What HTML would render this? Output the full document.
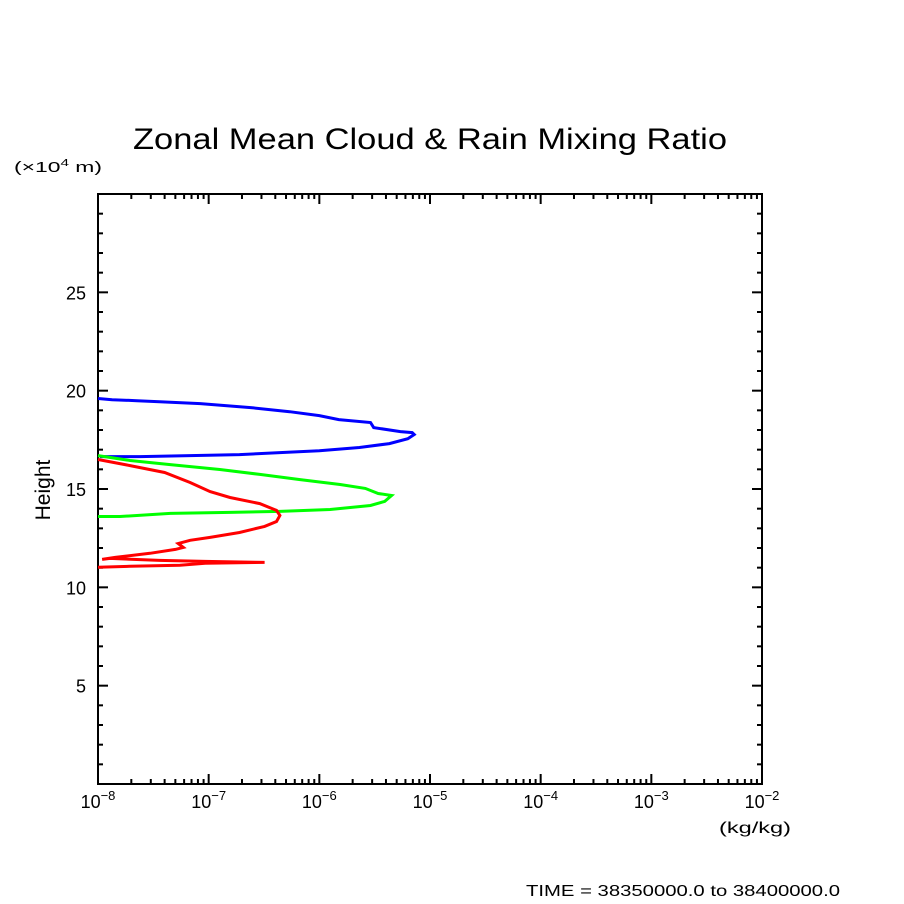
<!DOCTYPE html>
<html><head><meta charset="utf-8"><style>body{margin:0;background:#fff}svg{display:block;font-family:"Liberation Sans",sans-serif}</style></head>
<body>
<svg id="c" width="904" height="904">
<text x="133" y="149" font-size="30" textLength="594" lengthAdjust="spacingAndGlyphs">Zonal Mean Cloud &amp; Rain Mixing Ratio</text>
<text x="14" y="172" font-size="15" textLength="88" lengthAdjust="spacingAndGlyphs">(×10<tspan font-size="10" dy="-6">4</tspan><tspan dy="6"> m)</tspan></text>
<text x="50" y="490" font-size="21" text-anchor="middle" transform="rotate(-90 50 490)">Height</text>
<text x="719" y="833" font-size="16" textLength="72" lengthAdjust="spacingAndGlyphs">(kg/kg)</text>
<text x="526" y="896" font-size="16" textLength="314" lengthAdjust="spacingAndGlyphs">TIME = 38350000.0 to 38400000.0</text>
<rect x="98" y="194" width="664" height="590" fill="none" stroke="#000" stroke-width="2"/>
<g id="ax"></g><g id="lines"></g>
</svg>
<script>
const yTicks=[5,10,15,20,25];
const xExps=[-8,-7,-6,-5,-4,-3,-2];
const blueX=[1e-8,1.34e-8,2.25e-8,3.6e-8,8.4e-8,2.4e-7,5.4e-7,1.0e-6,1.5e-6,2.9e-6,3.1e-6,5.4e-6,6.9e-6,7.2e-6,6.3e-6,4.3e-6,2.3e-6,1.0e-6,4.4e-7,1.9e-7,6.8e-8,2.4e-8,1.04e-8];
const blueH=[19.6,19.54,19.49,19.44,19.34,19.14,18.93,18.73,18.53,18.38,18.12,17.92,17.87,17.77,17.56,17.31,17.11,16.95,16.85,16.75,16.70,16.65,16.65];
const greenX=[1e-8,1.95e-8,4.5e-8,1.26e-7,2.9e-7,6.7e-7,1.54e-6,2.6e-6,3.4e-6,4.5e-6,3.9e-6,2.9e-6,1.25e-6,4.4e-7,1.56e-7,4.5e-8,1.58e-8,1e-8];
const greenH=[16.70,16.45,16.24,15.99,15.74,15.48,15.23,15.03,14.77,14.67,14.37,14.16,13.96,13.86,13.81,13.76,13.60,13.60];
const redX=[1e-8,1.95e-8,4.0e-8,6.8e-8,1.03e-7,1.56e-7,2.9e-7,4.1e-7,4.4e-7,4.1e-7,3.2e-7,1.9e-7,1.03e-7,6.8e-8,5.3e-8,5.9e-8,5.0e-8,2.95e-8,1.43e-8,1.09e-8,1.28e-8,3.6e-8,9.3e-8,3.2e-7,9.3e-8,5.5e-8,1.95e-8,1e-8];
const redH=[16.50,16.19,15.84,15.33,14.87,14.57,14.26,13.91,13.65,13.35,13.10,12.79,12.54,12.39,12.23,12.03,11.93,11.73,11.52,11.42,11.47,11.37,11.32,11.27,11.22,11.12,11.07,11.02];
const NS='http://www.w3.org/2000/svg';
const X0=98,X1=762,Y0=784,Y1=194;
function sx(v){return X0+(Math.log10(v)+8)/6*(X1-X0);}
function sy(h){return Y0-h/30*(Y0-Y1);}
const ax=document.getElementById('ax');
function ln(x1,y1,x2,y2,name){const l=document.createElementNS(NS,'line');l.setAttribute('x1',x1);l.setAttribute('y1',y1);l.setAttribute('x2',x2);l.setAttribute('y2',y2);l.setAttribute('stroke','#000');l.setAttribute('stroke-width','2');


ax.appendChild(l);}
for(let h=1;h<30;h++){const y=sy(h);const L=h%5===0?10:5;ln(X0,y,X0+L,y,'y-tick');ln(X1,y,X1-L,y,'y-tick-right');}
yTicks.forEach(h=>{const t=document.createElementNS(NS,'text');t.setAttribute('x',X0-12);t.setAttribute('y',sy(h)+7);t.setAttribute('font-size','18');t.setAttribute('text-anchor','end');t.textContent=h;


ax.appendChild(t);});
xExps.forEach((e,i)=>{const x=sx(Math.pow(10,e));ln(x,Y0,x,Y0-10,'x-tick');ln(x,Y1,x,Y1+10,'x-tick-top');
if(i<xExps.length-1){for(let m=2;m<10;m++){const xm=sx(m*Math.pow(10,e));ln(xm,Y0,xm,Y0-5,'x-minor-tick');ln(xm,Y1,xm,Y1+5,'x-minor-tick-top');}}
const t=document.createElementNS(NS,'text');t.setAttribute('x',x);t.setAttribute('y',Y0+24);t.setAttribute('font-size','18');t.setAttribute('text-anchor','middle');
t.innerHTML='10<tspan font-size="13" dy="-8">'+(e<0?'−'+(-e):e)+'</tspan>';


ax.appendChild(t);});
const g=document.getElementById('lines');
function series(xs,hs,col,name){const p=document.createElementNS(NS,'polyline');p.setAttribute('points',xs.map((v,i)=>sx(v).toFixed(1)+','+sy(hs[i]).toFixed(1)).join(' '));p.setAttribute('fill','none');p.setAttribute('stroke',col);p.setAttribute('stroke-width','3');


g.appendChild(p);}
series(blueX,blueH,'#0000ff','cloud-ice-line');
series(greenX,greenH,'#00ff00','cloud-water-line');
series(redX,redH,'#ff0000','rain-line');
</script>
</body></html>
